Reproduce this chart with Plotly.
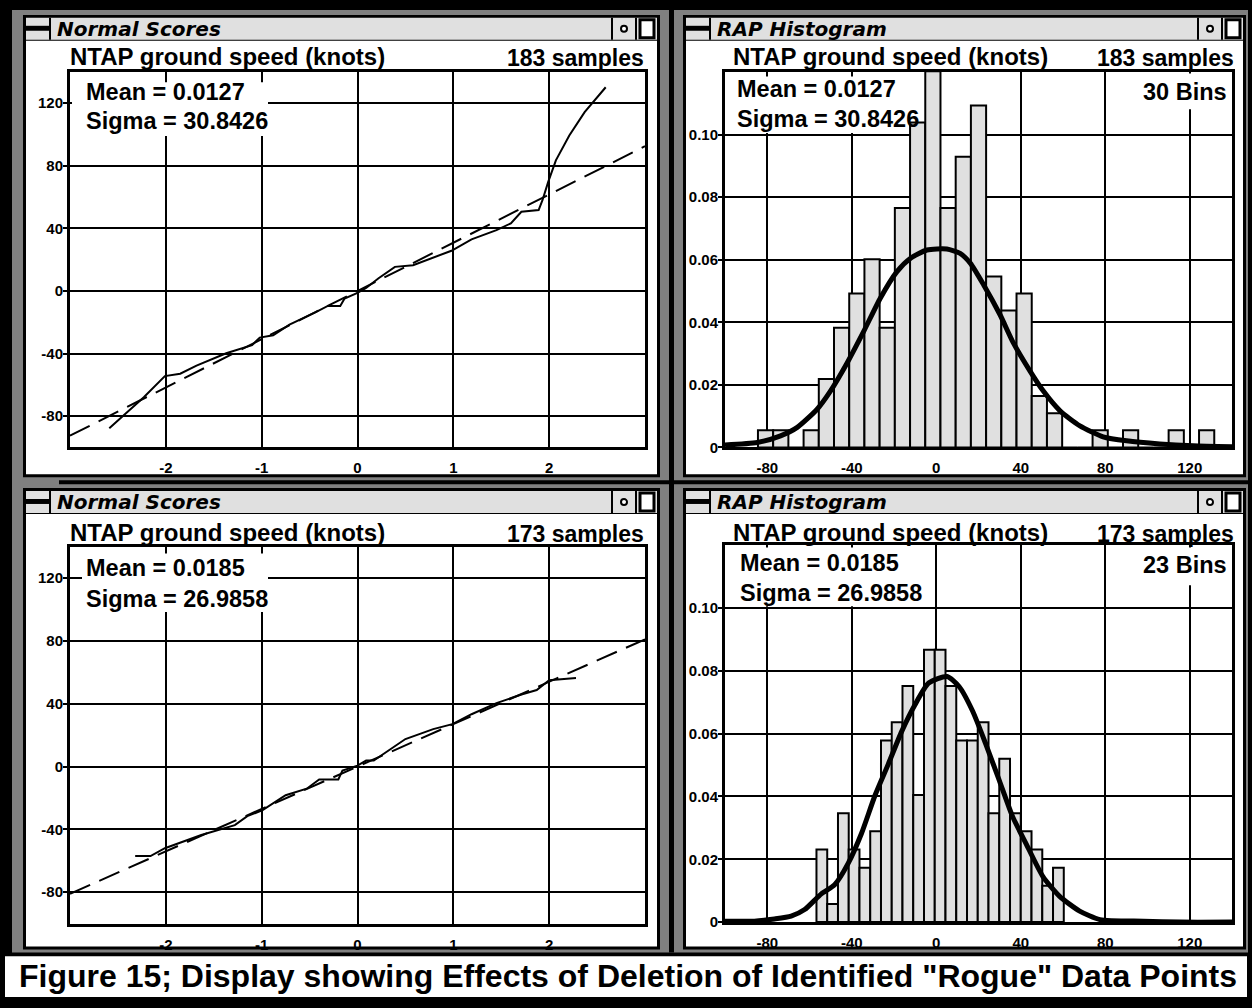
import plotly.graph_objects as go

W, H = 1252, 1008


def X(p):
    return p / W


def Y(p):
    return 1 - p / H


# ---------------- data ----------------
top_title = "Normal Scores"
hist_title = "RAP Histogram"
var_name = "NTAP ground speed (knots)"
top_n, bot_n = 183, 173
top_mean, top_sigma = "0.0127", "30.8426"
bot_mean, bot_sigma = "0.0185", "26.9858"
top_bins, bot_bins = 30, 23

# normal-score plot (sorted data vs normal quantile)
ns_top_z = [-2.59, -2.34, -2.23, -2.01, -1.85, -1.68, -1.37, -1.10, -1.02, -0.88, -0.71,
            -0.44, -0.31, -0.18, -0.135, 0.0, 0.09, 0.22, 0.39, 0.58, 0.98, 1.19, 1.45,
            1.60, 1.71, 1.89, 1.93, 1.99, 2.07, 2.21, 2.37, 2.59]
ns_top_v = [-87.7, -74.2, -67.9, -54.4, -52.9, -47.7, -39.8, -34.6, -29.8, -28.3, -21.5,
            -13.7, -9.6, -9.6, -4.8, -1.2, 1.9, 8.1, 15.4, 16.5, 25.7, 33.0, 38.9,
            43.2, 50.6, 51.7, 58.0, 69.7, 83.5, 99.4, 114.3, 130.2]
ns_bot_z = [-2.32, -2.16, -2.01, -1.63, -1.28, -1.15, -0.99, -0.75, -0.53, -0.40, -0.20,
            -0.157, 0.0, 0.09, 0.17, 0.35, 0.50, 0.79, 0.99, 1.19, 1.45, 1.72, 1.87,
            2.0, 2.28]
ns_bot_v = [-57.0, -57.0, -52.0, -43.6, -37.3, -31.6, -27.8, -18.3, -14.1, -8.2, -8.2,
            -2.5, 0.6, 3.8, 3.8, 11.2, 17.5, 23.8, 27.0, 33.3, 40.4, 46.0, 48.7,
            55.0, 56.4]
# fitted normal line end points
fit_z = [-3, 3]
fit_top_v = [-92.5, 92.5]
fit_bot_v = [-81.0, 81.0]

# histograms
top_bin_start, top_bin_width = -84.4, 7.2
top_counts = [1, 1, 0, 1, 4, 7, 9, 11, 7, 14, 19, 22, 14, 17, 20,
              10, 8, 9, 3, 2, 0, 0, 1, 0, 1, 0, 0, 1, 0, 1]
bot_bin_start, bot_bin_width = -56.7, 5.09
bot_counts = [4, 1, 6, 4, 3, 5, 10, 11, 13, 7, 15, 15, 13, 10, 10,
              11, 6, 9, 6, 5, 4, 2, 3]

# smoothed density curves
top_curve_x = [-100, -84.7, -73.7, -65.8, -56.4, -50.1, -42.2, -34.4, -26.5, -18.6, -12.3,
               -4.4, 5.0, 11.3, 16.1, 22.4, 30.2, 36.5, 44.4, 50.7, 58.6, 68.0, 79.0,
               90.1, 105.8, 121.6, 140]
top_curve_y = [0.0008, 0.0016, 0.0037, 0.0064, 0.0122, 0.018, 0.027, 0.037, 0.0477, 0.0562,
               0.0604, 0.0631, 0.0634, 0.062, 0.0589, 0.052, 0.0424, 0.0334, 0.0244, 0.018,
               0.0117, 0.0069, 0.0034, 0.0021, 0.0011, 0.0005, 0.0002]
bot_curve_x = [-100, -86.1, -76.6, -68.7, -62.3, -54.4, -48.1, -41.7, -35.4, -29.0, -22.7,
               -16.3, -10.0, -3.6, 5.1, 10.8, 17.2, 23.5, 29.9, 36.2, 42.5, 50.5, 58.4,
               67.9, 77.5, 98.1, 115.5, 140]
bot_curve_y = [0.0003, 0.0003, 0.001, 0.0019, 0.004, 0.009, 0.0119, 0.0187, 0.0282, 0.0403,
               0.0503, 0.0608, 0.0693, 0.0761, 0.0782, 0.075, 0.0672, 0.0566, 0.045, 0.0335,
               0.025, 0.0145, 0.0082, 0.0035, 0.0008, 0.0003, 0.0, 0.0]

ns_xticks = [-2, -1, 0, 1, 2]
ns_yticks = [-80, -40, 0, 40, 80, 120]
h_xticks = [-80, -40, 0, 40, 80, 120]
h_yticks = [0, 0.02, 0.04, 0.06, 0.08, 0.10]
h_yticktext = ["0", "0.02", "0.04", "0.06", "0.08", "0.10"]
caption = 'Figure 15; Display showing Effects of Deletion of Identified "Rogue" Data Points'

# ---------------- figure ----------------
FONT = "Liberation Sans"
TFONT = "DejaVu Sans"
fig = go.Figure()

dash = "22px,10px"
fig.add_trace(go.Scatter(x=fit_z, y=fit_top_v, mode="lines", xaxis="x", yaxis="y",
                         line=dict(color="black", width=2, dash=dash)))
fig.add_trace(go.Scatter(x=ns_top_z, y=ns_top_v, mode="lines", xaxis="x", yaxis="y",
                         line=dict(color="black", width=2)))
fig.add_trace(go.Scatter(x=fit_z, y=fit_bot_v, mode="lines", xaxis="x3", yaxis="y3",
                         line=dict(color="black", width=2, dash=dash)))
fig.add_trace(go.Scatter(x=ns_bot_z, y=ns_bot_v, mode="lines", xaxis="x3", yaxis="y3",
                         line=dict(color="black", width=2)))


def bars(start, width, counts, n, xa, ya):
    xs = [start + (i + 0.5) * width for i in range(len(counts))]
    ys = [c / n for c in counts]
    return go.Bar(x=xs, y=ys, width=width, xaxis=xa, yaxis=ya,
                  marker=dict(color="#e0e0e0", line=dict(color="black", width=2)))


fig.add_trace(bars(top_bin_start, top_bin_width, top_counts, top_n, "x2", "y2"))
fig.add_trace(go.Scatter(x=top_curve_x, y=top_curve_y, mode="lines", xaxis="x2", yaxis="y2",
                         line=dict(color="black", width=5, shape="spline", smoothing=0.6)))
fig.add_trace(bars(bot_bin_start, bot_bin_width, bot_counts, bot_n, "x4", "y4"))
fig.add_trace(go.Scatter(x=bot_curve_x, y=bot_curve_y, mode="lines", xaxis="x4", yaxis="y4",
                         line=dict(color="black", width=5, shape="spline", smoothing=0.6)))

tickfont = dict(family=FONT, size=15, color="black")


def axis(domain, rng, tv, tt=None, kind="x"):
    labels = tt if tt else [str(v) for v in tv]
    d = dict(domain=domain, range=rng, tickvals=tv, ticktext=[f"<b>{s}</b>" for s in labels],
             showgrid=True, gridcolor="black", gridwidth=2, showline=True, linecolor="black",
             linewidth=3, mirror=True, zeroline=False, tickfont=tickfont, fixedrange=True,
             ticks="outside", tickwidth=2)
    if kind == "x":
        d.update(ticklen=5, tickcolor="rgba(0,0,0,0)")
    else:
        d.update(ticklen=4, tickcolor="black", ticklabelstandoff=-3)
    return d


# plot areas in pixels
TL = (70, 72.5, 645, 451)
TR = (725, 72.5, 1232, 451)
BL = (70, 551, 645, 931)
BR = (725, 549.5, 1232, 929.5)


def dom_x(r):
    return [X(r[0]), X(r[2])]


def dom_y(r):
    return [Y(r[3]), Y(r[1])]


layout = dict(
    width=W, height=H, margin=dict(l=0, r=0, t=0, b=0, pad=0),
    paper_bgcolor="black", plot_bgcolor="white", showlegend=False, barmode="overlay",
    xaxis=axis(dom_x(TL), [-3, 3], ns_xticks),
    yaxis=axis(dom_y(TL), [-100, 140], ns_yticks, kind="y"),
    xaxis2=axis(dom_x(TR), [-100, 140], h_xticks),
    yaxis2=axis(dom_y(TR), [0, 0.12], h_yticks, h_yticktext, kind="y"),
    xaxis3=axis(dom_x(BL), [-3, 3], ns_xticks),
    yaxis3=axis(dom_y(BL), [-100, 140], ns_yticks, kind="y"),
    xaxis4=axis(dom_x(BR), [-100, 140], h_xticks),
    yaxis4=axis(dom_y(BR), [0, 0.12], h_yticks, h_yticktext, kind="y"),
)
for s in ["", "2", "3", "4"]:
    layout["xaxis" + s]["anchor"] = "y" + s
    layout["yaxis" + s]["anchor"] = "x" + s
fig.update_layout(**layout)

shapes = []


def rect(x0, y0, x1, y1, fill, lc=None, lw=0, layer="below"):
    shapes.append(dict(type="rect", xref="paper", yref="paper", x0=X(x0), x1=X(x1),
                       y0=Y(y1), y1=Y(y0), fillcolor=fill, layer=layer,
                       line=dict(color=lc if lc else fill, width=lw)))


def line(x0, y0, x1, y1, w=2, layer="below"):
    shapes.append(dict(type="line", xref="paper", yref="paper", x0=X(x0), x1=X(x1),
                       y0=Y(y0), y1=Y(y1), layer=layer, line=dict(color="black", width=w)))


# gray desktop frames
rect(12, 10, 1248, 960, "#808080")
rect(669, 10, 674, 960, "black")
rect(59, 484, 1248, 488, "black")

windows = [(23, 15, 660, 481), (683, 15, 1246, 481), (23, 492, 660, 957), (683, 492, 1246, 957)]
for (x0, y0, x1, y1) in windows:
    rect(x0, y0, x1, y1, "black")
    rect(x0 + 3, y0 + 3, x1 - 3, y0 + 25, "#e0e0e0")
    rect(x0 + 3, y0 + 26, x1 - 3, y1 - 3, "white")
    # close box
    rect(x0 + 3, y0 + 11, x0 + 27, y0 + 16, "black")
    line(x0 + 27, y0 + 3, x0 + 27, y0 + 25, 2)
    # right buttons
    line(x1 - 48, y0 + 3, x1 - 48, y0 + 25, 2)
    line(x1 - 24, y0 + 3, x1 - 24, y0 + 25, 2)
    shapes.append(dict(type="circle", xref="paper", yref="paper", x0=X(x1 - 39), x1=X(x1 - 33),
                       y0=Y(y0 + 17), y1=Y(y0 + 11), layer="below",
                       line=dict(color="black", width=2), fillcolor="white"))
    rect(x1 - 20, y0 + 5, x1 - 6, y0 + 23, "white", "black", 3)

# caption box
rect(4, 963, 1248, 1006, "white", "black", 2)

# white boxes behind statistics (hide grid)
rect(72, 83, 268, 137, "white", layer="above")
rect(733, 77, 907, 134, "white", layer="above")
rect(1140, 74, 1231, 110, "white", layer="above")
rect(82, 558, 268, 617, "white", layer="above")
rect(737, 552, 924, 611, "white", layer="above")
rect(1140, 552, 1231, 590, "white", layer="above")

fig.update_layout(shapes=shapes)

ann = []


def text(x, y, s, size=20, anchor="left", italic=False, family=FONT):
    ann.append(dict(xref="paper", yref="paper", x=X(x), y=Y(y), text=s, showarrow=False,
                    xanchor=anchor, yanchor="middle",
                    font=dict(family=family, size=size, color="black", weight="bold",
                              style="italic" if italic else "normal")))


for (x0, y0, x1, y1), t in zip(windows, [top_title, hist_title, top_title, hist_title]):
    text(x0 + 32, y0 + 14, t, 20, italic=True, family=TFONT)

HS = 24
SS = 23
MS = 23.5
text(68, 57, var_name, HS)
text(646, 58, f"{top_n} samples", SS, "right")
text(84, 93, f"Mean = {top_mean}", MS)
text(84, 122, f"Sigma = {top_sigma}", MS)

text(731, 57, var_name, HS)
text(1236, 58, f"{top_n} samples", SS, "right")
text(735, 90, f"Mean = {top_mean}", MS)
text(735, 120, f"Sigma = {top_sigma}", MS)
text(1229, 93, f"{top_bins} Bins", MS, "right")

text(68, 537, var_name, HS)
text(646, 538, f"{bot_n} samples", SS, "right")
text(84, 573, f"Mean = {bot_mean}", MS)
text(84, 604, f"Sigma = {bot_sigma}", MS)

text(731, 537, var_name, HS)
text(1236, 538, f"{bot_n} samples", SS, "right")
text(738, 568, f"Mean = {bot_mean}", MS)
text(738, 598, f"Sigma = {bot_sigma}", MS)
text(1229, 570, f"{bot_bins} Bins", MS, "right")

text(628, 984, caption, 32, "center")

fig.update_layout(annotations=ann)

fig.write_html("out.html")
